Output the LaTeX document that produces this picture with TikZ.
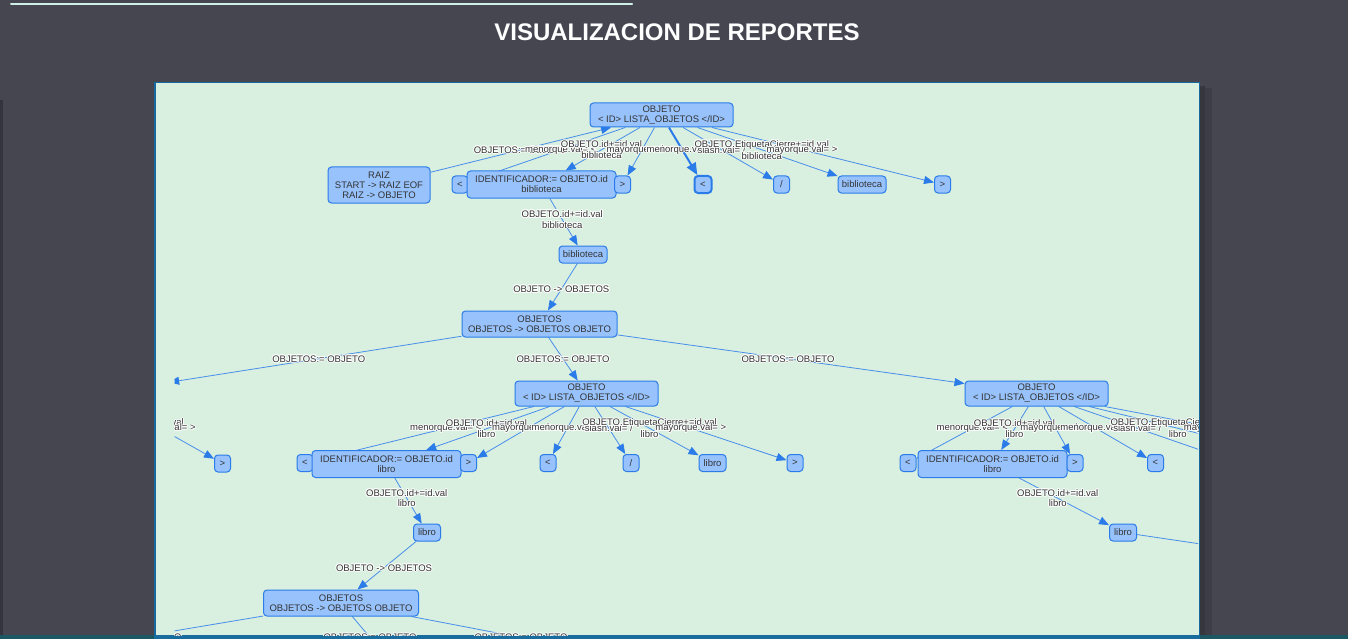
\documentclass[tikz,border=0pt]{standalone}
\usepackage{fontspec}
\setmainfont{Liberation Sans}
\usetikzlibrary{arrows.meta,calc}
\definecolor{bgdark}{RGB}{70,70,81}
\definecolor{bgstrip}{RGB}{52,52,62}
\definecolor{panelc}{RGB}{217,239,223}
\definecolor{nfill}{RGB}{151,194,252}
\definecolor{nborder}{RGB}{43,124,233}
\definecolor{edgec}{RGB}{72,142,236}
\definecolor{txt}{RGB}{52,52,52}
\definecolor{pborder}{RGB}{24,104,160}
\definecolor{barblue}{RGB}{24,108,158}
\definecolor{barteal}{RGB}{28,88,100}
\definecolor{topline}{RGB}{208,238,232}
\pgfdeclarelayer{bglayer}
\pgfdeclarelayer{edgelayer}
\pgfdeclarelayer{labellayer}
\pgfsetlayers{bglayer,edgelayer,labellayer,main}
\newcommand{\mynodefont}{\fontsize{9.5}{10.2}\selectfont}
\newcommand{\mylblfont}{\fontsize{9.5}{10.5}\selectfont}
\newcommand{\hcopy}[3]{\rlap{\kern#1\raisebox{#2}{\textcolor{white}{#3}}}}
\newcommand{\halo}[1]{%
\hcopy{1pt}{0pt}{#1}\hcopy{-1pt}{0pt}{#1}\hcopy{0pt}{1pt}{#1}\hcopy{0pt}{-1pt}{#1}%
\hcopy{.7pt}{.7pt}{#1}\hcopy{-.7pt}{.7pt}{#1}\hcopy{.7pt}{-.7pt}{#1}\hcopy{-.7pt}{-.7pt}{#1}%
\textcolor{txt}{#1}}
\newcommand{\elabel}[3]{\path (#1.center) -- (#2.center) node[lbl,midway] {#3};}
\tikzset{
  nbox/.style={rectangle,rounded corners=3.5pt,draw=nborder,fill=nfill,line width=1pt,
    inner sep=0pt,align=center,text=txt,font=\mynodefont},
  tok/.style={nbox,minimum width=16pt,minimum height=17pt},
  idbox/.style={nbox,minimum width=149pt,minimum height=27pt},
  objbox/.style={nbox,minimum width=143pt,minimum height=25pt},
  objsbox/.style={nbox,minimum width=155pt,minimum height=26pt},
  bibbox/.style={nbox,minimum width=48pt,minimum height=17pt},
  libbox/.style={nbox,minimum width=27pt,minimum height=17pt},
  conn/.style={draw=edgec,line width=0.8pt,-{Triangle[length=10pt,width=8pt,color=nborder]}},
  connsel/.style={draw=nborder,line width=2pt,-{Triangle[length=12pt,width=10pt,color=nborder]}},
  lbl/.style={inner sep=0pt,align=center,font=\mylblfont},
  titlestyle/.style={text=white,font=\bfseries\fontsize{24}{28}\selectfont,inner sep=0pt}
}
\begin{document}
\begin{tikzpicture}[x=1pt,y=-1pt]
\useasboundingbox (0,0) rectangle (1348,639);
\begin{pgfonlayer}{bglayer}
  \fill[bgdark] (0,0) rectangle (1348,639);
  \fill[bgstrip] (0,100) rectangle (3,639);
  \draw[topline,line width=2pt,line cap=round] (11,4) -- (632,4);
  \fill[black,opacity=.22] (1200,86) rectangle (1205,635);
  \fill[black,opacity=.12] (1205,88) rectangle (1212,635);
  \fill[panelc] (154,82) rectangle (1200,635);
  \draw[pborder,line width=1.5pt] (154.75,635) -- (154.75,82.75) -- (1199.25,82.75) -- (1199.25,635);
  \fill[barteal] (0,635) rectangle (1348,639);
  \fill[barblue] (154,634.5) rectangle (1200,639);
\end{pgfonlayer}
\node[titlestyle] (title) at (677,32) {VISUALIZACION DE REPORTES};
% ---------- nodes ----------
\node[objbox,minimum height=24pt] (tobj) at (661.5,115) {OBJETO\\< ID> LISTA\_OBJETOS </ID>};
\node[nbox,minimum width=102pt,minimum height=36pt] (raiz) at (379,185) {RAIZ\\START -> RAIZ EOF\\RAIZ -> OBJETO};
\node[tok] (tlt) at (460,184.5) {<};
\node[idbox] (tid) at (541.5,184.5) {IDENTIFICADOR:= OBJETO.id\\biblioteca};
\node[tok] (tgt) at (622.5,184.5) {>};
\node[tok,line width=2pt,minimum width=17pt] (tlt2) at (703,184.5) {<};
\node[tok] (tsl) at (781.5,184.5) {/};
\node[bibbox] (tbib) at (862,184.5) {biblioteca};
\node[tok] (tgt2) at (942.5,184.5) {>};
\node[bibbox] (tbib2) at (583,254.5) {biblioteca};
\node[objsbox] (tobjs) at (539.5,324) {OBJETOS\\OBJETOS -> OBJETOS OBJETO};
\coordinate (lobj) at (98,393.5);
\coordinate (llib) at (135,463);
\node[tok] (lgt) at (222.5,463.5) {>};
\node[objbox] (mobj) at (586.5,393.5) {OBJETO\\< ID> LISTA\_OBJETOS </ID>};
\node[tok] (mlt) at (305,463) {<};
\node[idbox] (mid) at (386.5,464) {IDENTIFICADOR:= OBJETO.id\\libro};
\node[tok] (mgt) at (468.5,463) {>};
\node[tok] (mlt2) at (548,463) {<};
\node[tok] (msl) at (631,463) {/};
\node[libbox] (mlib) at (712.5,463) {libro};
\node[tok] (mgt2) at (795,463) {>};
\node[libbox] (mlib2) at (427,532.5) {libro};
\node[objsbox] (mobjs) at (341,603) {OBJETOS\\OBJETOS -> OBJETOS OBJETO};
\coordinate (bl) at (-71,672);
\coordinate (bm) at (399,672);
\coordinate (br) at (701,672);
\node[objbox] (robj) at (1036.5,393.5) {OBJETO\\< ID> LISTA\_OBJETOS </ID>};
\node[tok] (rlt) at (908,463) {<};
\node[idbox] (rid) at (992.5,464) {IDENTIFICADOR:= OBJETO.id\\libro};
\node[tok] (rgt) at (1075,463) {>};
\node[tok] (rlt2) at (1155.5,463) {<};
\coordinate (rsl) at (1238,463);
\coordinate (rlib) at (1319,463);
\coordinate (rgt2) at (1402,463);
\node[libbox] (rlib2) at (1123,532.5) {libro};
\coordinate (robjs) at (1600,603);
% ---------- edges ----------
\begin{pgfonlayer}{edgelayer}
\begin{scope}
\clip (174.5,84) rectangle (1198,635);
\draw[conn] (raiz) -- (tobj);
\draw[conn] (tobj) -- (tlt);
\draw[conn] (tobj) -- (tid);
\draw[conn] (tobj) -- (tgt);
\draw[connsel] (tobj) -- (tlt2);
\draw[conn] (tobj) -- (tsl);
\draw[conn] (tobj) -- (tbib);
\draw[conn] (tobj) -- (tgt2);
\draw[conn] (tid) -- (tbib2);
\draw[conn] (tbib2) -- (tobjs);
\draw[conn,shorten >=72pt] (tobjs) -- (lobj);
\draw[conn] (tobjs) -- (mobj);
\draw[conn] (tobjs) -- (robj);
\draw[conn] (lobj) -- (llib);
\draw[conn] (lobj) -- (lgt);
\draw[conn] (mobj) -- (mlt);
\draw[conn] (mobj) -- (mid);
\draw[conn] (mobj) -- (mgt);
\draw[conn] (mobj) -- (mlt2);
\draw[conn] (mobj) -- (msl);
\draw[conn] (mobj) -- (mlib);
\draw[conn] (mobj) -- (mgt2);
\draw[conn] (mid) -- (mlib2);
\draw[conn] (mlib2) -- (mobjs);
\draw[conn] (mobjs) -- (bl);
\draw[conn] (mobjs) -- (bm);
\draw[conn] (mobjs) -- (br);
\draw[conn] (robj) -- (rlt);
\draw[conn] (robj) -- (rid);
\draw[conn] (robj) -- (rgt);
\draw[conn] (robj) -- (rlt2);
\draw[conn] (robj) -- (rsl);
\draw[conn] (robj) -- (rlib);
\draw[conn] (robj) -- (rgt2);
\draw[conn] (rid) -- (rlib2);
\draw[conn] (rlib2) -- (robjs);
\end{scope}
\end{pgfonlayer}
% ---------- labels ----------
\begin{pgfonlayer}{labellayer}
\begin{scope}
\clip (174.5,84) rectangle (1198,635);
\elabel{raiz}{tobj}{\halo{OBJETOS:= OBJETO}}
\elabel{tobj}{tlt}{\halo{menorque.val= <}}
\elabel{tobj}{tid}{\halo{OBJETO.id+=id.val}\\\halo{biblioteca}}
\elabel{tobj}{tgt}{\halo{mayorque.val= >}}
\elabel{tobj}{tlt2}{\halo{menorque.val= <}}
\elabel{tobj}{tsl}{\halo{slash.val= /}}
\elabel{tobj}{tbib}{\halo{OBJETO.EtiquetaCierre+=id.val}\\\halo{biblioteca}}
\elabel{tobj}{tgt2}{\halo{mayorque.val= >}}
\elabel{tid}{tbib2}{\halo{OBJETO.id+=id.val}\\\halo{biblioteca}}
\elabel{tbib2}{tobjs}{\halo{OBJETO -> OBJETOS}}
\elabel{tobjs}{lobj}{\halo{OBJETOS:= OBJETO}}
\elabel{tobjs}{mobj}{\halo{OBJETOS:= OBJETO}}
\elabel{tobjs}{robj}{\halo{OBJETOS:= OBJETO}}
\elabel{lobj}{llib}{\halo{OBJETO.EtiquetaCierre+=id.val}\\\halo{libro}}
\elabel{lobj}{lgt}{\halo{mayorque.val= >}}
\elabel{mobj}{mlt}{\halo{menorque.val= <}}
\elabel{mobj}{mid}{\halo{OBJETO.id+=id.val}\\\halo{libro}}
\elabel{mobj}{mgt}{\halo{mayorque.val= >}}
\elabel{mobj}{mlt2}{\halo{menorque.val= <}}
\elabel{mobj}{msl}{\halo{slash.val= /}}
\elabel{mobj}{mlib}{\halo{OBJETO.EtiquetaCierre+=id.val}\\\halo{libro}}
\elabel{mobj}{mgt2}{\halo{mayorque.val= >}}
\elabel{mid}{mlib2}{\halo{OBJETO.id+=id.val}\\\halo{libro}}
\elabel{mlib2}{mobjs}{\halo{OBJETO -> OBJETOS}}
\elabel{mobjs}{bl}{\halo{OBJETOS:= OBJETO}}
\elabel{mobjs}{bm}{\halo{OBJETOS:= OBJETO}}
\elabel{mobjs}{br}{\halo{OBJETOS:= OBJETO}}
\elabel{robj}{rlt}{\halo{menorque.val= <}}
\elabel{robj}{rid}{\halo{OBJETO.id+=id.val}\\\halo{libro}}
\elabel{robj}{rgt}{\halo{mayorque.val= >}}
\elabel{robj}{rlt2}{\halo{menorque.val= <}}
\elabel{robj}{rsl}{\halo{slash.val= /}}
\elabel{robj}{rlib}{\halo{OBJETO.EtiquetaCierre+=id.val}\\\halo{libro}}
\elabel{robj}{rgt2}{\halo{mayorque.val= >}}
\elabel{rid}{rlib2}{\halo{OBJETO.id+=id.val}\\\halo{libro}}
\elabel{rlib2}{robjs}{\halo{OBJETO -> OBJETOS}}
\end{scope}
\end{pgfonlayer}
\end{tikzpicture}
\end{document}
